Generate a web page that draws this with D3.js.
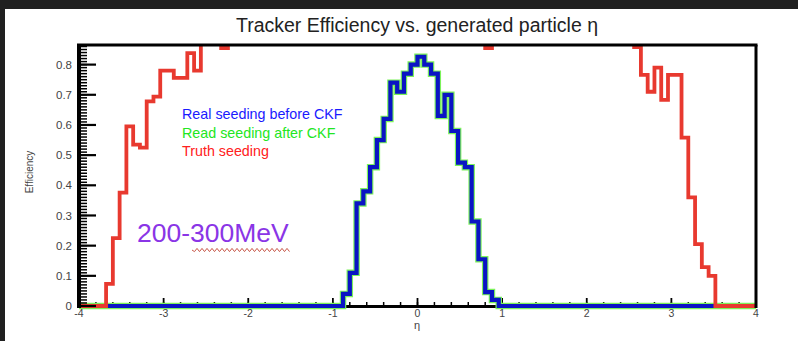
<!DOCTYPE html>
<html><head><meta charset="utf-8">
<script src="https://cdn.jsdelivr.net/npm/d3@7"></script>
<style>html,body{margin:0;padding:0;background:#fff;}svg{display:block;}</style>
</head><body>
<script>
// ---- data ----
const binStart = -4;
const binWidth = 0.08;
const xTicks = [-4,-3,-2,-1,0,1,2,3,4];
const yTicks = [0,0.1,0.2,0.3,0.4,0.5,0.6,0.7,0.8];
const legendLabels = ["Real seeding before CKF","Read seeding after CKF","Truth seeding"];
// Truth seeding (red), 100 bins; values above the frame top are clipped
const truthValues = [
 0,0,0,0,0.073,0.225,0.376,0.595,0.535,0.525,
 0.678,0.694,0.78,0.78,0.756,0.756,0.838,0.78,0.95,0.95,
 0.95,0.855,0.95,0.95,0.95,0.95,0.95,0.95,0.95,0.95,
 0.95,0.95,0.95,0.95,0.95,0.95,0.95,0.95,0.95,0.95,
 0.95,0.95,0.95,0.95,0.95,0.95,0.95,0.95,0.95,0.95,
 0.95,0.95,0.95,0.95,0.95,0.95,0.95,0.95,0.95,0.95,
 0.855,0.95,0.95,0.95,0.95,0.95,0.95,0.95,0.95,0.95,
 0.95,0.95,0.95,0.95,0.95,0.95,0.95,0.95,0.95,0.95,
 0.95,0.95,0.858,0.766,0.71,0.79,0.683,0.766,0.766,0.558,
 0.36,0.205,0.129,0.10,0,0,0,0,0,0
];
// Real seeding before CKF (blue), 100 bins
const realBefore = [
 0,0,0,0,0,0,0,0,0,0,
 0,0,0,0,0,0,0,0,0,0,
 0,0,0,0,0,0,0,0,0,0,
 0,0,0,0,0,0,0,0,0,0.04,
 0.11,0.34,0.38,0.46,0.55,0.62,0.74,0.71,0.77,0.80,
 0.826,0.80,0.77,0.63,0.70,0.58,0.475,0.46,0.28,0.155,
 0.046,0.02,0,0,0,0,0,0,0,0,
 0,0,0,0,0,0,0,0,0,0,
 0,0,0,0,0,0,0,0,0,0,
 0,0,0,0,0,0,0,0,0,0
];
// Read seeding after CKF (green) - same as before CKF
const realAfter = realBefore.slice();

// ---- layout ----
const W = 798, H = 341;
const x0 = 79, x1 = 756, yT = 45, yB = 306;
const svg = d3.select("body").append("svg").attr("width", W).attr("height", H);
svg.append("rect").attr("width", W).attr("height", H).attr("fill", "#fff");
svg.append("rect").attr("x",0).attr("y",0).attr("width",W).attr("height",9).attr("fill","#202020");
svg.append("rect").attr("x",0).attr("y",0).attr("width",5).attr("height",H).attr("fill","#202020");

const x = d3.scaleLinear().domain([-4,4]).range([x0,x1]);
const y = d3.scaleLinear().domain([0,0.865]).range([yB,yT]);
const FONT = "'Liberation Sans', Arial, Helvetica, sans-serif";

// x axis line + ticks (beneath histograms)
svg.append("line").attr("x1",x0).attr("x2",x1).attr("y1",yB+0.5).attr("y2",yB+0.5)
  .attr("stroke","#000").attr("stroke-width",3);
const xMinor = d3.range(-4, 4.0001, 0.2);
svg.selectAll(".xmin").data(xMinor).enter().append("line")
  .attr("x1",d=>x(d)).attr("x2",d=>x(d)).attr("y1",yB).attr("y2",yB-4)
  .attr("stroke","#000").attr("stroke-width",1.5);
svg.selectAll(".xmaj").data(xTicks).enter().append("line")
  .attr("x1",d=>x(d)).attr("x2",d=>x(d)).attr("y1",yB).attr("y2",yB-8)
  .attr("stroke","#000").attr("stroke-width",1.8);

// histograms
const defs = svg.append("defs");
defs.append("clipPath").attr("id","plotclip").append("rect")
  .attr("x",x0).attr("y",yT).attr("width",x1-x0).attr("height",yB-yT+6);
const g = svg.append("g").attr("clip-path","url(#plotclip)");
function histPoints(vals){
  const pts = vals.map((v,i)=>[binStart+i*binWidth, v]);
  pts.push([binStart+vals.length*binWidth, vals[vals.length-1]]);
  return pts;
}
const line = d3.line().x(d=>x(d[0])).y(d=>y(d[1])).curve(d3.curveStepAfter);
g.append("path").attr("d",line(histPoints(realAfter))).attr("fill","none")
  .attr("stroke","#7cf25a").attr("stroke-width",6.5).attr("stroke-linejoin","miter");
g.append("path").attr("d",line(histPoints(realBefore))).attr("fill","none")
  .attr("stroke","#0a14c4").attr("stroke-width",4.2).attr("stroke-linejoin","miter");
g.append("path").attr("d",line(histPoints(truthValues))).attr("fill","none")
  .attr("stroke","#e8392f").attr("stroke-width",3.8).attr("stroke-linejoin","miter");

// frame top & right
svg.append("line").attr("x1",x0-2).attr("x2",x1+1.5).attr("y1",yT).attr("y2",yT)
  .attr("stroke","#000").attr("stroke-width",3);
svg.append("line").attr("x1",x1).attr("x2",x1).attr("y1",yT).attr("y2",yB+2)
  .attr("stroke","#000").attr("stroke-width",3);

// y axis
svg.append("line").attr("x1",x0).attr("x2",x0).attr("y1",yT).attr("y2",yB+2)
  .attr("stroke","#000").attr("stroke-width",4);
const yMinor = d3.range(0, 0.8651, 0.01);
svg.selectAll(".ymin").data(yMinor).enter().append("line")
  .attr("x1",x0).attr("x2",x0+8).attr("y1",d=>y(d)).attr("y2",d=>y(d))
  .attr("stroke","#000").attr("stroke-width",1.5);
svg.selectAll(".ymaj").data(yTicks).enter().append("line")
  .attr("x1",x0).attr("x2",x0+17).attr("y1",d=>y(d)).attr("y2",d=>y(d))
  .attr("stroke","#000").attr("stroke-width",2.2);

// tick labels
svg.selectAll(".ylab").data(yTicks).enter().append("text")
  .attr("x",72).attr("y",d=>y(d)).attr("dy","0.35em").attr("text-anchor","end")
  .attr("font-family",FONT).attr("font-size",11.5).attr("fill","#444")
  .text(d=>d===0?"0":d.toFixed(1));
svg.selectAll(".xlab").data(xTicks).enter().append("text")
  .attr("x",d=>x(d)).attr("y",317).attr("text-anchor","middle")
  .attr("font-family",FONT).attr("font-size",10.5).attr("fill","#444")
  .text(d=>String(d));
svg.append("text").attr("x",417).attr("y",329).attr("text-anchor","middle")
  .attr("font-family",FONT).attr("font-size",11).attr("fill","#444").text("η");
svg.append("text").attr("transform","translate(33,172) rotate(-90)").attr("text-anchor","middle")
  .attr("font-family",FONT).attr("font-size",10).attr("fill","#444").text("Efficiency");

// title
svg.append("text").attr("x",417).attr("y",32).attr("text-anchor","middle")
  .attr("font-family",FONT).attr("font-size",19.5).attr("fill","#222")
  .text("Tracker Efficiency vs. generated particle η");

// legend
const legColors = ["#1a1aff","#22e622","#ff2020"];
svg.selectAll(".leg").data(legendLabels).enter().append("text")
  .attr("x",182).attr("y",(d,i)=>119+i*18.5)
  .attr("font-family",FONT).attr("font-size",14.3).attr("fill",(d,i)=>legColors[i])
  .text(d=>d);

// energy annotation
svg.append("text").attr("x",137).attr("y",242)
  .attr("font-family",FONT).attr("font-size",26.5).attr("fill","#8a35e6").text("200-300MeV");
// spell-check squiggle under "300MeV"
const sq = d3.path();
const sx0 = 192, sx1 = 289, sy = 250;
sq.moveTo(sx0, sy);
for (let xx = sx0, k = 0; xx < sx1; xx += 2.5, k++) sq.lineTo(xx+2.5, sy + (k%2===0 ? 1.6 : -1.6));
svg.append("path").attr("d",sq.toString()).attr("fill","none").attr("stroke","#c8584a").attr("stroke-width",1);
</script>
</body></html>
